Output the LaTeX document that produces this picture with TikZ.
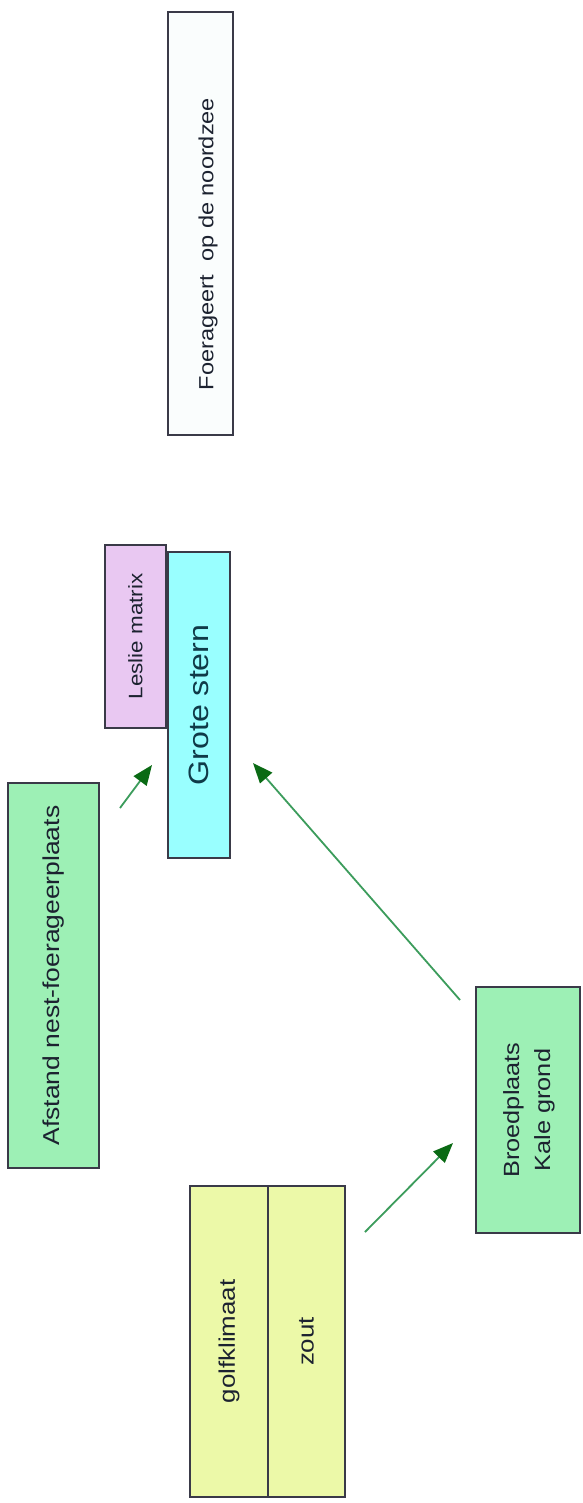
\documentclass[tikz,border=0pt]{standalone}
\usepackage{fontspec}
\setmainfont{Liberation Sans}[FakeStretch=1.15]
\usetikzlibrary{arrows.meta,calc}

\definecolor{edge}{HTML}{3A3A48}
\definecolor{ink}{HTML}{1C2230}
\definecolor{sternink}{HTML}{0F3A48}
\definecolor{sterncyan}{HTML}{99FFFF}
\definecolor{lesliepink}{HTML}{E9C8F2}
\definecolor{mintgreen}{HTML}{9DF0B5}
\definecolor{limeyellow}{HTML}{ECF9A8}
\definecolor{seawhite}{HTML}{FAFDFD}
\definecolor{arrowline}{HTML}{3C9C5C}
\definecolor{arrowhead}{HTML}{0A6A14}

\tikzset{
  box/.style={draw=edge, line width=1.6pt, rectangle, inner sep=0pt, outer sep=0pt,
    text=ink, align=center},
  link/.style={draw=arrowline, line width=1.8pt,
    -{Triangle[length=20pt,width=16pt,color=arrowhead]}}
}

\begin{document}
\begin{tikzpicture}[x=1pt,y=-1pt]
  \path[use as bounding box] (0,0) rectangle (583,1503);

  % boxes (text runs bottom to top)
  \node[box, fill=seawhite, minimum width=65pt, minimum height=423pt] (foer) at (200.5,223.5) {};
  \node[text=ink, inner sep=0pt] (foertext) at (208,244)
    {\rotatebox{90}{\fontsize{20.5}{24}\selectfont Foerageert\ \ op de noordzee}};
  \node[box, fill=lesliepink, minimum width=61pt, minimum height=183pt] (leslie) at (135.5,636.5)
    {\rotatebox{90}{\fontsize{19.5}{23}\selectfont Leslie matrix}};
  \node[box, fill=sterncyan, minimum width=62pt, minimum height=306pt, text=sternink] (grote) at (199,705)
    {\rotatebox{90}{\fontsize{28}{32}\selectfont Grote stern}};
  \node[box, fill=mintgreen, minimum width=91pt, minimum height=385pt] (afstand) at (53.5,975.5)
    {\rotatebox{90}{\fontsize{23}{27}\selectfont Afstand nest-foerageerplaats}};
  \node[box, fill=mintgreen, minimum width=104pt, minimum height=246pt] (broed) at (528,1110)
    {\rotatebox{90}{\fontsize{22}{33}\selectfont\begin{tabular}{@{}c@{}}Broedplaats\\[-2pt]Kale grond\end{tabular}}};
  \node[box, fill=limeyellow, minimum width=78pt, minimum height=311pt] (golf) at (229,1341.5)
    {\rotatebox{90}{\fontsize{22.5}{26}\selectfont golfklimaat}};
  \node[box, fill=limeyellow, minimum width=77pt, minimum height=311pt] (zout) at (306.5,1341.5)
    {\rotatebox{90}{\fontsize{22.5}{26}\selectfont zout}};

  % influences
  \draw[link] ($(afstand.north east)+(21,25)$) -- ($(grote.west)+(-16,60)$);
  \draw[link] ($(broed.north west)+(-16,13)$) -- ($(grote.east)+(23,58)$);
  \draw[link] ($(zout.north east)+(20,46)$) -- ($(broed.west)+(-23,33)$);
\end{tikzpicture}
\end{document}
